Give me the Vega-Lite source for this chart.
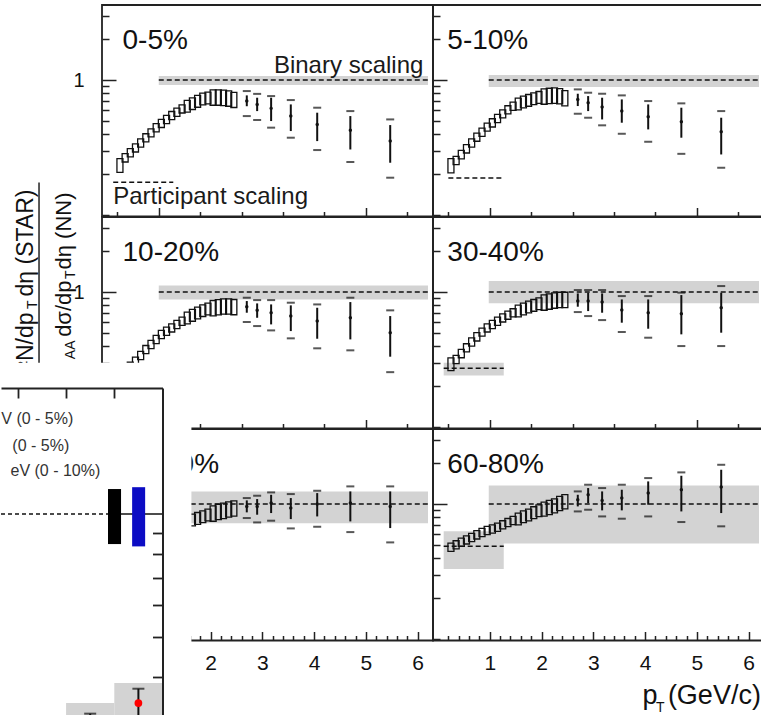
{
"$schema": "https://vega.github.io/schema/vega-lite/v6.json",
"background": "white",
"padding": {"left": 0, "top": 4, "right": 0, "bottom": 0},
"bounds": "flush",
"spacing": 383,
"config": {
  "font": "Liberation Sans",
  "view": {"stroke": "#222", "strokeWidth": 1.8},
  "axis": {"grid": false, "domain": false, "tickColor": "#222", "tickWidth": 1.5, "labelFont": "Liberation Sans", "labelColor": "#111", "labelOverlap": false, "zindex": 1}
},
"datasets": {
"bands": [
{"panel":"0-5%","kind":"binary","x1":1.0,"x2":6.2,"lo":0.92,"hi":1.07,"line":1},
{"panel":"0-5%","kind":"participant","x1":0.12,"x2":1.28,"lo":0.175,"hi":0.175,"line":0.175},
{"panel":"5-10%","kind":"binary","x1":0.98,"x2":6.2,"lo":0.89,"hi":1.09,"line":1},
{"panel":"5-10%","kind":"participant","x1":0.2,"x2":1.28,"lo":0.188,"hi":0.188,"line":0.188},
{"panel":"10-20%","kind":"binary","x1":1.0,"x2":6.2,"lo":0.88,"hi":1.12,"line":1},
{"panel":"30-40%","kind":"binary","x1":0.98,"x2":6.2,"lo":0.825,"hi":1.207,"line":1},
{"panel":"30-40%","kind":"participant","x1":0.11,"x2":1.27,"lo":0.241,"hi":0.300,"line":0.273},
{"panel":"40-60%","kind":"binary","x1":1.0,"x2":6.2,"lo":0.72,"hi":1.24,"line":1},
{"panel":"60-80%","kind":"binary","x1":0.98,"x2":6.2,"lo":0.51,"hi":1.37,"line":1},
{"panel":"60-80%","kind":"participant","x1":0.11,"x2":1.27,"lo":0.33,"hi":0.63,"line":0.486}
],
"low": [
{"panel":"0-5%","pt":0.25,"v":0.237,"lo":0.207,"hi":0.262},
{"panel":"0-5%","pt":0.35,"v":0.266,"lo":0.247,"hi":0.285},
{"panel":"0-5%","pt":0.45,"v":0.290,"lo":0.270,"hi":0.310},
{"panel":"0-5%","pt":0.55,"v":0.315,"lo":0.293,"hi":0.337},
{"panel":"0-5%","pt":0.65,"v":0.343,"lo":0.319,"hi":0.367},
{"panel":"0-5%","pt":0.75,"v":0.374,"lo":0.348,"hi":0.400},
{"panel":"0-5%","pt":0.85,"v":0.407,"lo":0.379,"hi":0.435},
{"panel":"0-5%","pt":0.95,"v":0.444,"lo":0.413,"hi":0.475},
{"panel":"0-5%","pt":1.05,"v":0.478,"lo":0.445,"hi":0.511},
{"panel":"0-5%","pt":1.15,"v":0.511,"lo":0.475,"hi":0.547},
{"panel":"0-5%","pt":1.25,"v":0.547,"lo":0.509,"hi":0.585},
{"panel":"0-5%","pt":1.35,"v":0.579,"lo":0.538,"hi":0.620},
{"panel":"0-5%","pt":1.45,"v":0.613,"lo":0.570,"hi":0.656},
{"panel":"0-5%","pt":1.55,"v":0.642,"lo":0.578,"hi":0.706},
{"panel":"0-5%","pt":1.65,"v":0.672,"lo":0.605,"hi":0.739},
{"panel":"0-5%","pt":1.75,"v":0.699,"lo":0.629,"hi":0.769},
{"panel":"0-5%","pt":1.85,"v":0.727,"lo":0.654,"hi":0.800},
{"panel":"0-5%","pt":1.95,"v":0.740,"lo":0.666,"hi":0.814},
{"panel":"0-5%","pt":2.05,"v":0.748,"lo":0.651,"hi":0.845},
{"panel":"0-5%","pt":2.15,"v":0.748,"lo":0.651,"hi":0.845},
{"panel":"0-5%","pt":2.25,"v":0.744,"lo":0.647,"hi":0.841},
{"panel":"0-5%","pt":2.35,"v":0.736,"lo":0.640,"hi":0.832},
{"panel":"0-5%","pt":2.45,"v":0.719,"lo":0.626,"hi":0.812},
{"panel":"5-10%","pt":0.25,"v":0.237,"lo":0.205,"hi":0.262},
{"panel":"5-10%","pt":0.35,"v":0.254,"lo":0.236,"hi":0.272},
{"panel":"5-10%","pt":0.45,"v":0.281,"lo":0.261,"hi":0.301},
{"panel":"5-10%","pt":0.55,"v":0.310,"lo":0.288,"hi":0.332},
{"panel":"5-10%","pt":0.65,"v":0.343,"lo":0.319,"hi":0.367},
{"panel":"5-10%","pt":0.75,"v":0.378,"lo":0.352,"hi":0.404},
{"panel":"5-10%","pt":0.85,"v":0.412,"lo":0.383,"hi":0.441},
{"panel":"5-10%","pt":0.95,"v":0.449,"lo":0.418,"hi":0.480},
{"panel":"5-10%","pt":1.05,"v":0.483,"lo":0.449,"hi":0.517},
{"panel":"5-10%","pt":1.15,"v":0.520,"lo":0.484,"hi":0.556},
{"panel":"5-10%","pt":1.25,"v":0.563,"lo":0.524,"hi":0.602},
{"panel":"5-10%","pt":1.35,"v":0.603,"lo":0.561,"hi":0.645},
{"panel":"5-10%","pt":1.45,"v":0.642,"lo":0.597,"hi":0.687},
{"panel":"5-10%","pt":1.55,"v":0.668,"lo":0.601,"hi":0.735},
{"panel":"5-10%","pt":1.65,"v":0.691,"lo":0.622,"hi":0.760},
{"panel":"5-10%","pt":1.75,"v":0.711,"lo":0.640,"hi":0.782},
{"panel":"5-10%","pt":1.85,"v":0.731,"lo":0.658,"hi":0.804},
{"panel":"5-10%","pt":1.95,"v":0.748,"lo":0.673,"hi":0.823},
{"panel":"5-10%","pt":2.05,"v":0.761,"lo":0.662,"hi":0.860},
{"panel":"5-10%","pt":2.15,"v":0.770,"lo":0.670,"hi":0.870},
{"panel":"5-10%","pt":2.25,"v":0.774,"lo":0.673,"hi":0.875},
{"panel":"5-10%","pt":2.35,"v":0.765,"lo":0.666,"hi":0.864},
{"panel":"5-10%","pt":2.45,"v":0.740,"lo":0.644,"hi":0.836},
{"panel":"10-20%","pt":0.45,"v":0.282,"lo":0.262,"hi":0.302},
{"panel":"10-20%","pt":0.55,"v":0.308,"lo":0.286,"hi":0.330},
{"panel":"10-20%","pt":0.65,"v":0.340,"lo":0.316,"hi":0.364},
{"panel":"10-20%","pt":0.75,"v":0.376,"lo":0.350,"hi":0.402},
{"panel":"10-20%","pt":0.85,"v":0.410,"lo":0.381,"hi":0.439},
{"panel":"10-20%","pt":0.95,"v":0.446,"lo":0.415,"hi":0.477},
{"panel":"10-20%","pt":1.05,"v":0.486,"lo":0.452,"hi":0.520},
{"panel":"10-20%","pt":1.15,"v":0.514,"lo":0.478,"hi":0.550},
{"panel":"10-20%","pt":1.25,"v":0.544,"lo":0.506,"hi":0.582},
{"panel":"10-20%","pt":1.35,"v":0.576,"lo":0.536,"hi":0.616},
{"panel":"10-20%","pt":1.45,"v":0.610,"lo":0.567,"hi":0.653},
{"panel":"10-20%","pt":1.55,"v":0.645,"lo":0.581,"hi":0.710},
{"panel":"10-20%","pt":1.65,"v":0.676,"lo":0.608,"hi":0.744},
{"panel":"10-20%","pt":1.75,"v":0.703,"lo":0.633,"hi":0.773},
{"panel":"10-20%","pt":1.85,"v":0.732,"lo":0.659,"hi":0.805},
{"panel":"10-20%","pt":1.95,"v":0.753,"lo":0.678,"hi":0.828},
{"panel":"10-20%","pt":2.05,"v":0.766,"lo":0.666,"hi":0.866},
{"panel":"10-20%","pt":2.15,"v":0.779,"lo":0.678,"hi":0.880},
{"panel":"10-20%","pt":2.25,"v":0.788,"lo":0.686,"hi":0.890},
{"panel":"10-20%","pt":2.35,"v":0.788,"lo":0.686,"hi":0.890},
{"panel":"10-20%","pt":2.45,"v":0.780,"lo":0.679,"hi":0.881},
{"panel":"30-40%","pt":0.25,"v":0.291,"lo":0.262,"hi":0.325},
{"panel":"30-40%","pt":0.35,"v":0.317,"lo":0.295,"hi":0.339},
{"panel":"30-40%","pt":0.45,"v":0.351,"lo":0.326,"hi":0.376},
{"panel":"30-40%","pt":0.55,"v":0.387,"lo":0.360,"hi":0.414},
{"panel":"30-40%","pt":0.65,"v":0.427,"lo":0.397,"hi":0.457},
{"panel":"30-40%","pt":0.75,"v":0.467,"lo":0.434,"hi":0.500},
{"panel":"30-40%","pt":0.85,"v":0.506,"lo":0.471,"hi":0.541},
{"panel":"30-40%","pt":0.95,"v":0.544,"lo":0.506,"hi":0.582},
{"panel":"30-40%","pt":1.05,"v":0.576,"lo":0.536,"hi":0.616},
{"panel":"30-40%","pt":1.15,"v":0.610,"lo":0.567,"hi":0.653},
{"panel":"30-40%","pt":1.25,"v":0.645,"lo":0.600,"hi":0.690},
{"panel":"30-40%","pt":1.35,"v":0.676,"lo":0.629,"hi":0.723},
{"panel":"30-40%","pt":1.45,"v":0.703,"lo":0.654,"hi":0.752},
{"panel":"30-40%","pt":1.55,"v":0.727,"lo":0.654,"hi":0.800},
{"panel":"30-40%","pt":1.65,"v":0.753,"lo":0.678,"hi":0.828},
{"panel":"30-40%","pt":1.75,"v":0.779,"lo":0.701,"hi":0.857},
{"panel":"30-40%","pt":1.85,"v":0.801,"lo":0.721,"hi":0.881},
{"panel":"30-40%","pt":1.95,"v":0.824,"lo":0.742,"hi":0.906},
{"panel":"30-40%","pt":2.05,"v":0.843,"lo":0.733,"hi":0.953},
{"panel":"30-40%","pt":2.15,"v":0.858,"lo":0.746,"hi":0.970},
{"panel":"30-40%","pt":2.25,"v":0.872,"lo":0.759,"hi":0.985},
{"panel":"30-40%","pt":2.35,"v":0.882,"lo":0.767,"hi":0.997},
{"panel":"30-40%","pt":2.45,"v":0.882,"lo":0.767,"hi":0.997},
{"panel":"40-60%","pt":1.65,"v":0.765,"lo":0.689,"hi":0.842},
{"panel":"40-60%","pt":1.75,"v":0.787,"lo":0.708,"hi":0.866},
{"panel":"40-60%","pt":1.85,"v":0.810,"lo":0.729,"hi":0.891},
{"panel":"40-60%","pt":1.95,"v":0.834,"lo":0.751,"hi":0.917},
{"panel":"40-60%","pt":2.05,"v":0.858,"lo":0.746,"hi":0.970},
{"panel":"40-60%","pt":2.15,"v":0.882,"lo":0.767,"hi":0.997},
{"panel":"40-60%","pt":2.25,"v":0.898,"lo":0.781,"hi":1.015},
{"panel":"40-60%","pt":2.35,"v":0.918,"lo":0.799,"hi":1.037},
{"panel":"40-60%","pt":2.45,"v":0.934,"lo":0.813,"hi":1.055},
{"panel":"60-80%","pt":0.25,"v":0.480,"lo":0.446,"hi":0.514},
{"panel":"60-80%","pt":0.35,"v":0.500,"lo":0.465,"hi":0.535},
{"panel":"60-80%","pt":0.45,"v":0.523,"lo":0.486,"hi":0.560},
{"panel":"60-80%","pt":0.55,"v":0.544,"lo":0.506,"hi":0.582},
{"panel":"60-80%","pt":0.65,"v":0.566,"lo":0.526,"hi":0.606},
{"panel":"60-80%","pt":0.75,"v":0.593,"lo":0.551,"hi":0.635},
{"panel":"60-80%","pt":0.85,"v":0.617,"lo":0.574,"hi":0.660},
{"panel":"60-80%","pt":0.95,"v":0.638,"lo":0.593,"hi":0.683},
{"panel":"60-80%","pt":1.05,"v":0.656,"lo":0.610,"hi":0.702},
{"panel":"60-80%","pt":1.15,"v":0.675,"lo":0.628,"hi":0.722},
{"panel":"60-80%","pt":1.25,"v":0.703,"lo":0.654,"hi":0.752},
{"panel":"60-80%","pt":1.35,"v":0.731,"lo":0.680,"hi":0.782},
{"panel":"60-80%","pt":1.45,"v":0.757,"lo":0.704,"hi":0.810},
{"panel":"60-80%","pt":1.55,"v":0.779,"lo":0.701,"hi":0.857},
{"panel":"60-80%","pt":1.65,"v":0.810,"lo":0.729,"hi":0.891},
{"panel":"60-80%","pt":1.75,"v":0.834,"lo":0.751,"hi":0.917},
{"panel":"60-80%","pt":1.85,"v":0.868,"lo":0.781,"hi":0.955},
{"panel":"60-80%","pt":1.95,"v":0.898,"lo":0.808,"hi":0.988},
{"panel":"60-80%","pt":2.05,"v":0.924,"lo":0.813,"hi":1.035},
{"panel":"60-80%","pt":2.15,"v":0.950,"lo":0.836,"hi":1.064},
{"panel":"60-80%","pt":2.25,"v":0.977,"lo":0.860,"hi":1.094},
{"panel":"60-80%","pt":2.35,"v":1.017,"lo":0.895,"hi":1.139},
{"panel":"60-80%","pt":2.45,"v":1.047,"lo":0.921,"hi":1.173}
],
"high": [
{"panel":"0-5%","pt":2.70,"v":0.699,"slo":0.640,"shi":0.770,"elo":0.541,"ehi":0.829},
{"panel":"0-5%","pt":2.90,"v":0.660,"slo":0.589,"shi":0.740,"elo":0.506,"ehi":0.790},
{"panel":"0-5%","pt":3.17,"v":0.617,"slo":0.497,"shi":0.740,"elo":0.444,"ehi":0.761},
{"panel":"0-5%","pt":3.55,"v":0.541,"slo":0.419,"shi":0.660,"elo":0.374,"ehi":0.711},
{"panel":"0-5%","pt":4.06,"v":0.469,"slo":0.353,"shi":0.573,"elo":0.303,"ehi":0.624},
{"panel":"0-5%","pt":4.70,"v":0.424,"slo":0.306,"shi":0.541,"elo":0.247,"ehi":0.589},
{"panel":"0-5%","pt":5.47,"v":0.353,"slo":0.244,"shi":0.464,"elo":0.189,"ehi":0.511},
{"panel":"5-10%","pt":2.70,"v":0.719,"slo":0.642,"shi":0.792,"elo":0.563,"ehi":0.853},
{"panel":"5-10%","pt":2.90,"v":0.679,"slo":0.589,"shi":0.761,"elo":0.526,"ehi":0.806},
{"panel":"5-10%","pt":3.17,"v":0.631,"slo":0.511,"shi":0.740,"elo":0.462,"ehi":0.792},
{"panel":"5-10%","pt":3.55,"v":0.589,"slo":0.483,"shi":0.719,"elo":0.400,"ehi":0.770},
{"panel":"5-10%","pt":4.06,"v":0.535,"slo":0.431,"shi":0.660,"elo":0.349,"ehi":0.699},
{"panel":"5-10%","pt":4.70,"v":0.491,"slo":0.374,"shi":0.624,"elo":0.284,"ehi":0.672},
{"panel":"5-10%","pt":5.47,"v":0.414,"slo":0.281,"shi":0.526,"elo":0.224,"ehi":0.589},
{"panel":"10-20%","pt":2.70,"v":0.779,"slo":0.703,"shi":0.858,"elo":0.600,"ehi":0.908},
{"panel":"10-20%","pt":2.90,"v":0.732,"slo":0.645,"shi":0.824,"elo":0.560,"ehi":0.872},
{"panel":"10-20%","pt":3.17,"v":0.703,"slo":0.576,"shi":0.810,"elo":0.520,"ehi":0.872},
{"panel":"10-20%","pt":3.55,"v":0.664,"slo":0.514,"shi":0.797,"elo":0.454,"ehi":0.834},
{"panel":"10-20%","pt":4.06,"v":0.610,"slo":0.451,"shi":0.765,"elo":0.383,"ehi":0.810},
{"panel":"10-20%","pt":4.70,"v":0.645,"slo":0.446,"shi":0.843,"elo":0.370,"ehi":0.908},
{"panel":"10-20%","pt":5.47,"v":0.500,"slo":0.332,"shi":0.664,"elo":0.255,"ehi":0.732},
{"panel":"30-40%","pt":2.70,"v":0.858,"slo":0.779,"shi":0.977,"elo":0.711,"ehi":1.035},
{"panel":"30-40%","pt":2.90,"v":0.858,"slo":0.723,"shi":0.989,"elo":0.664,"ehi":1.035},
{"panel":"30-40%","pt":3.17,"v":0.843,"slo":0.703,"shi":0.977,"elo":0.620,"ehi":1.035},
{"panel":"30-40%","pt":3.55,"v":0.736,"slo":0.593,"shi":0.882,"elo":0.506,"ehi":0.934},
{"panel":"30-40%","pt":4.06,"v":0.703,"slo":0.535,"shi":0.882,"elo":0.459,"ehi":0.934},
{"panel":"30-40%","pt":4.70,"v":0.691,"slo":0.486,"shi":0.950,"elo":0.398,"ehi":0.990},
{"panel":"30-40%","pt":5.47,"v":0.765,"slo":0.500,"shi":0.989,"elo":0.398,"ehi":1.108},
{"panel":"40-60%","pt":2.70,"v":0.961,"slo":0.868,"shi":1.065,"elo":0.788,"ehi":1.108},
{"panel":"40-60%","pt":2.90,"v":0.961,"slo":0.834,"shi":1.089,"elo":0.731,"ehi":1.153},
{"panel":"40-60%","pt":3.17,"v":1.017,"slo":0.858,"shi":1.172,"elo":0.753,"ehi":1.220},
{"panel":"40-60%","pt":3.55,"v":0.934,"slo":0.774,"shi":1.108,"elo":0.660,"ehi":1.186},
{"panel":"40-60%","pt":4.06,"v":1.000,"slo":0.810,"shi":1.206,"elo":0.679,"ehi":1.255},
{"panel":"40-60%","pt":4.70,"v":1.017,"slo":0.744,"shi":1.241,"elo":0.620,"ehi":1.352},
{"panel":"40-60%","pt":5.47,"v":0.961,"slo":0.664,"shi":1.241,"elo":0.520,"ehi":1.352},
{"panel":"60-80%","pt":2.70,"v":1.077,"slo":0.961,"shi":1.172,"elo":0.882,"ehi":1.241},
{"panel":"60-80%","pt":2.90,"v":1.172,"slo":1.017,"shi":1.314,"elo":0.908,"ehi":1.391},
{"panel":"60-80%","pt":3.17,"v":1.065,"slo":0.898,"shi":1.241,"elo":0.810,"ehi":1.314},
{"panel":"60-80%","pt":3.55,"v":1.108,"slo":0.898,"shi":1.277,"elo":0.779,"ehi":1.391},
{"panel":"60-80%","pt":4.06,"v":1.206,"slo":0.989,"shi":1.472,"elo":0.810,"ehi":1.558},
{"panel":"60-80%","pt":4.70,"v":1.277,"slo":0.882,"shi":1.621,"elo":0.736,"ehi":1.717},
{"panel":"60-80%","pt":5.47,"v":1.336,"slo":0.858,"shi":1.796,"elo":0.684,"ehi":1.955}
],
"inset_boxes": [
{"kind":"syst","x1":3.0,"x2":5.0,"lo":0.25,"hi":0.346},
{"kind":"syst","x1":5.0,"x2":7.0,"lo":0.25,"hi":0.3875},
{"kind":"normA","x1":4.74,"x2":5.28,"lo":0.845,"hi":1.151},
{"kind":"normB","x1":5.74,"x2":6.28,"lo":0.834,"hi":1.163}
],
"inset_points": [
{"series":"A","x":4.0,"v":0.29,"lo":0.27,"hi":0.326},
{"series":"B","x":6.0,"v":0.346,"lo":0.30,"hi":0.375}
]
},
"vconcat": [
{
"concat": [
{"width": 101, "height": 211.5, "view": {"stroke": null}, "data": {"values": [{}]}, "mark": {"type": "text", "text": ""}},
{"width": 331, "height": 211.5, "layer": [
 {"data": {"name": "bands"}, "transform": [{"filter": "datum.panel === '0-5%'"}], "mark": {"type": "rect", "color": "#d3d3d3"},
  "encoding": {
   "x": {"field": "x1", "type": "quantitative", "scale": {"domain": [0, 6.2], "nice": false, "zero": false}, "axis": {"title": null, "values": [0.2,0.4,0.6,0.8,1,1.2,1.4,1.6,1.8,2,2.2,2.4,2.6,2.8,3,3.2,3.4,3.6,3.8,4,4.2,4.4,4.6,4.8,5,5.2,5.4,5.6,5.8,6], "labels": false, "tickSize": {"condition": {"test": "abs(datum.value - round(datum.value)) < 0.01", "value": -9}, "value": -5}}},
   "x2": {"field": "x2"},
   "y": {"field": "lo", "type": "quantitative", "scale": {"type": "log", "domain": [0.0975, 3.6], "nice": false}, "axis": {"title": null, "values": [0.1,0.2,0.3,0.4,0.5,0.6,0.7,0.8,0.9,1,2,3], "labelExpr": "datum.value === 1 ? '1' : ''", "labelFontSize": 20, "labelPadding": 32, "labelOverlap": false, "tickSize": {"condition": {"test": "datum.value === 1", "value": -14}, "value": -7}}},
   "y2": {"field": "hi"}}},
 {"data": {"name": "bands"}, "transform": [{"filter": "datum.panel === '0-5%'"}], "mark": {"type": "rule", "color": "#111", "strokeWidth": 1.5, "strokeDash": [5, 3]},
  "encoding": {"x": {"field": "x1", "type": "quantitative"}, "x2": {"field": "x2"}, "y": {"field": "line", "type": "quantitative"}}},
 {"data": {"name": "low"}, "transform": [{"filter": "datum.panel === '0-5%'"}], "mark": {"type": "bar", "size": 6, "fillOpacity": 0, "stroke": "#111", "strokeWidth": 1.3},
  "encoding": {"x": {"field": "pt", "type": "quantitative"}, "y": {"field": "lo", "type": "quantitative"}, "y2": {"field": "hi"}}},
 {"data": {"name": "high"}, "transform": [{"filter": "datum.panel === '0-5%'"}], "mark": {"type": "rule", "color": "#111", "strokeWidth": 2},
  "encoding": {"x": {"field": "pt", "type": "quantitative"}, "y": {"field": "slo", "type": "quantitative"}, "y2": {"field": "shi"}}},
 {"data": {"name": "high"}, "transform": [{"filter": "datum.panel === '0-5%'"}], "mark": {"type": "tick", "orient": "horizontal", "size": 8, "thickness": 2, "color": "#111"},
  "encoding": {"x": {"field": "pt", "type": "quantitative"}, "y": {"field": "elo", "type": "quantitative"}}},
 {"data": {"name": "high"}, "transform": [{"filter": "datum.panel === '0-5%'"}], "mark": {"type": "tick", "orient": "horizontal", "size": 8, "thickness": 2, "color": "#111"},
  "encoding": {"x": {"field": "pt", "type": "quantitative"}, "y": {"field": "ehi", "type": "quantitative"}}},
 {"data": {"name": "high"}, "transform": [{"filter": "datum.panel === '0-5%'"}], "mark": {"type": "circle", "size": 12, "color": "#111", "opacity": 1},
  "encoding": {"x": {"field": "pt", "type": "quantitative"}, "y": {"field": "v", "type": "quantitative"}}},
 {"data": {"values": [{}]}, "mark": {"type": "text", "text": "0-5%", "align": "left", "baseline": "alphabetic", "fontSize": 28, "color": "#111"},
  "encoding": {"x": {"datum": 0.3, "type": "quantitative"}, "y": {"datum": 1.7, "type": "quantitative"}}},
 {"data": {"values": [{}]}, "mark": {"type": "text", "text": "Binary scaling", "align": "right", "baseline": "alphabetic", "fontSize": 24, "color": "#1a1a1a"},
  "encoding": {"x": {"datum": 6.11, "type": "quantitative"}, "y": {"datum": 1.133, "type": "quantitative"}}},
 {"data": {"values": [{}]}, "mark": {"type": "text", "text": "Participant scaling", "align": "left", "baseline": "alphabetic", "fontSize": 24, "color": "#1a1a1a"},
  "encoding": {"x": {"datum": 0.12, "type": "quantitative"}, "y": {"datum": 0.1206, "type": "quantitative"}}}
]},
{"width": 331, "height": 211.5, "layer": [
 {"data": {"name": "bands"}, "transform": [{"filter": "datum.panel === '5-10%'"}], "mark": {"type": "rect", "color": "#d3d3d3"},
  "encoding": {
   "x": {"field": "x1", "type": "quantitative", "scale": {"domain": [0, 6.2], "nice": false, "zero": false}, "axis": {"title": null, "values": [0.2,0.4,0.6,0.8,1,1.2,1.4,1.6,1.8,2,2.2,2.4,2.6,2.8,3,3.2,3.4,3.6,3.8,4,4.2,4.4,4.6,4.8,5,5.2,5.4,5.6,5.8,6], "labels": false, "tickSize": {"condition": {"test": "abs(datum.value - round(datum.value)) < 0.01", "value": -9}, "value": -5}}},
   "x2": {"field": "x2"},
   "y": {"field": "lo", "type": "quantitative", "scale": {"type": "log", "domain": [0.0975, 3.6], "nice": false}, "axis": {"title": null, "values": [0.1,0.2,0.3,0.4,0.5,0.6,0.7,0.8,0.9,1,2,3], "labels": false, "tickSize": {"condition": {"test": "datum.value === 1", "value": -14}, "value": -7}}},
   "y2": {"field": "hi"}}},
 {"data": {"name": "bands"}, "transform": [{"filter": "datum.panel === '5-10%'"}], "mark": {"type": "rule", "color": "#111", "strokeWidth": 1.5, "strokeDash": [5, 3]},
  "encoding": {"x": {"field": "x1", "type": "quantitative"}, "x2": {"field": "x2"}, "y": {"field": "line", "type": "quantitative"}}},
 {"data": {"name": "low"}, "transform": [{"filter": "datum.panel === '5-10%'"}], "mark": {"type": "bar", "size": 6, "fillOpacity": 0, "stroke": "#111", "strokeWidth": 1.3},
  "encoding": {"x": {"field": "pt", "type": "quantitative"}, "y": {"field": "lo", "type": "quantitative"}, "y2": {"field": "hi"}}},
 {"data": {"name": "high"}, "transform": [{"filter": "datum.panel === '5-10%'"}], "mark": {"type": "rule", "color": "#111", "strokeWidth": 2},
  "encoding": {"x": {"field": "pt", "type": "quantitative"}, "y": {"field": "slo", "type": "quantitative"}, "y2": {"field": "shi"}}},
 {"data": {"name": "high"}, "transform": [{"filter": "datum.panel === '5-10%'"}], "mark": {"type": "tick", "orient": "horizontal", "size": 8, "thickness": 2, "color": "#111"},
  "encoding": {"x": {"field": "pt", "type": "quantitative"}, "y": {"field": "elo", "type": "quantitative"}}},
 {"data": {"name": "high"}, "transform": [{"filter": "datum.panel === '5-10%'"}], "mark": {"type": "tick", "orient": "horizontal", "size": 8, "thickness": 2, "color": "#111"},
  "encoding": {"x": {"field": "pt", "type": "quantitative"}, "y": {"field": "ehi", "type": "quantitative"}}},
 {"data": {"name": "high"}, "transform": [{"filter": "datum.panel === '5-10%'"}], "mark": {"type": "circle", "size": 12, "color": "#111", "opacity": 1},
  "encoding": {"x": {"field": "pt", "type": "quantitative"}, "y": {"field": "v", "type": "quantitative"}}},
 {"data": {"values": [{}]}, "mark": {"type": "text", "text": "5-10%", "align": "left", "baseline": "alphabetic", "fontSize": 28, "color": "#111"},
  "encoding": {"x": {"datum": 0.18, "type": "quantitative"}, "y": {"datum": 1.7, "type": "quantitative"}}}
]},
{"width": 101, "height": 211.5, "view": {"stroke": null}, "layer": [
 {"data": {"values": [{}]}, "mark": {"type": "rule", "color": "#222", "strokeWidth": 1.5, "clip": false},
  "encoding": {"x": {"datum": -1.189, "type": "quantitative", "scale": {"domain": [-1.907, 0], "nice": false, "zero": false}, "axis": null}, "y": {"datum": 6.48, "type": "quantitative", "scale": {"type": "log", "domain": [0.0975, 3.6], "nice": false}, "axis": null}, "y2": {"datum": 0.221}}},
 {"data": {"values": [{}]}, "mark": {"type": "text", "text": "dη (STAR)", "angle": 270, "align": "right", "baseline": "alphabetic", "fontSize": 23, "color": "#111", "clip": false},
  "encoding": {"x": {"datum": -1.303, "type": "quantitative"}, "y": {"datum": 5.75, "type": "quantitative"}}},
 {"data": {"values": [{}]}, "mark": {"type": "text", "text": "T", "angle": 270, "align": "right", "baseline": "alphabetic", "fontSize": 14, "color": "#111", "clip": false},
  "encoding": {"x": {"datum": -1.227, "type": "quantitative"}, "y": {"datum": 0.866, "type": "quantitative"}}},
 {"data": {"values": [{}]}, "mark": {"type": "text", "text": "d²N/dp", "angle": 270, "align": "right", "baseline": "alphabetic", "fontSize": 23, "color": "#111", "clip": false},
  "encoding": {"x": {"datum": -1.303, "type": "quantitative"}, "y": {"datum": 0.706, "type": "quantitative"}}},
 {"data": {"values": [{}]}, "mark": {"type": "text", "text": "dη (NN)", "angle": 270, "align": "right", "baseline": "alphabetic", "fontSize": 22, "color": "#111", "clip": false},
  "encoding": {"x": {"datum": -0.585, "type": "quantitative"}, "y": {"datum": 5.47, "type": "quantitative"}}},
 {"data": {"values": [{}]}, "mark": {"type": "text", "text": "T", "angle": 270, "align": "right", "baseline": "alphabetic", "fontSize": 14, "color": "#111", "clip": false},
  "encoding": {"x": {"datum": -0.51, "type": "quantitative"}, "y": {"datum": 1.445, "type": "quantitative"}}},
 {"data": {"values": [{}]}, "mark": {"type": "text", "text": "dσ/dp", "angle": 270, "align": "right", "baseline": "alphabetic", "fontSize": 22, "color": "#111", "clip": false},
  "encoding": {"x": {"datum": -0.585, "type": "quantitative"}, "y": {"datum": 1.219, "type": "quantitative"}}},
 {"data": {"values": [{}]}, "mark": {"type": "text", "text": "AA", "angle": 270, "align": "right", "baseline": "alphabetic", "fontSize": 14, "color": "#111", "clip": false},
  "encoding": {"x": {"datum": -0.51, "type": "quantitative"}, "y": {"datum": 0.438, "type": "quantitative"}}}
]},
{"width": 331, "height": 211.5, "layer": [
 {"data": {"name": "bands"}, "transform": [{"filter": "datum.panel === '10-20%'"}], "mark": {"type": "rect", "color": "#d3d3d3"},
  "encoding": {
   "x": {"field": "x1", "type": "quantitative", "scale": {"domain": [0, 6.2], "nice": false, "zero": false}, "axis": {"title": null, "values": [0.2,0.4,0.6,0.8,1,1.2,1.4,1.6,1.8,2,2.2,2.4,2.6,2.8,3,3.2,3.4,3.6,3.8,4,4.2,4.4,4.6,4.8,5,5.2,5.4,5.6,5.8,6], "labels": false, "tickSize": {"condition": {"test": "abs(datum.value - round(datum.value)) < 0.01", "value": -9}, "value": -5}}},
   "x2": {"field": "x2"},
   "y": {"field": "lo", "type": "quantitative", "scale": {"type": "log", "domain": [0.0975, 3.6], "nice": false}, "axis": {"title": null, "values": [0.1,0.2,0.3,0.4,0.5,0.6,0.7,0.8,0.9,1,2,3], "labelExpr": "datum.value === 1 ? '1' : ''", "labelFontSize": 20, "labelPadding": 32, "labelOverlap": false, "tickSize": {"condition": {"test": "datum.value === 1", "value": -14}, "value": -7}}},
   "y2": {"field": "hi"}}},
 {"data": {"name": "bands"}, "transform": [{"filter": "datum.panel === '10-20%'"}], "mark": {"type": "rule", "color": "#111", "strokeWidth": 1.5, "strokeDash": [5, 3]},
  "encoding": {"x": {"field": "x1", "type": "quantitative"}, "x2": {"field": "x2"}, "y": {"field": "line", "type": "quantitative"}}},
 {"data": {"name": "low"}, "transform": [{"filter": "datum.panel === '10-20%'"}], "mark": {"type": "bar", "size": 6, "fillOpacity": 0, "stroke": "#111", "strokeWidth": 1.3},
  "encoding": {"x": {"field": "pt", "type": "quantitative"}, "y": {"field": "lo", "type": "quantitative"}, "y2": {"field": "hi"}}},
 {"data": {"name": "high"}, "transform": [{"filter": "datum.panel === '10-20%'"}], "mark": {"type": "rule", "color": "#111", "strokeWidth": 2},
  "encoding": {"x": {"field": "pt", "type": "quantitative"}, "y": {"field": "slo", "type": "quantitative"}, "y2": {"field": "shi"}}},
 {"data": {"name": "high"}, "transform": [{"filter": "datum.panel === '10-20%'"}], "mark": {"type": "tick", "orient": "horizontal", "size": 8, "thickness": 2, "color": "#111"},
  "encoding": {"x": {"field": "pt", "type": "quantitative"}, "y": {"field": "elo", "type": "quantitative"}}},
 {"data": {"name": "high"}, "transform": [{"filter": "datum.panel === '10-20%'"}], "mark": {"type": "tick", "orient": "horizontal", "size": 8, "thickness": 2, "color": "#111"},
  "encoding": {"x": {"field": "pt", "type": "quantitative"}, "y": {"field": "ehi", "type": "quantitative"}}},
 {"data": {"name": "high"}, "transform": [{"filter": "datum.panel === '10-20%'"}], "mark": {"type": "circle", "size": 12, "color": "#111", "opacity": 1},
  "encoding": {"x": {"field": "pt", "type": "quantitative"}, "y": {"field": "v", "type": "quantitative"}}},
 {"data": {"values": [{}]}, "mark": {"type": "text", "text": "10-20%", "align": "left", "baseline": "alphabetic", "fontSize": 28, "color": "#111"},
  "encoding": {"x": {"datum": 0.3, "type": "quantitative"}, "y": {"datum": 1.7, "type": "quantitative"}}}
]},
{"width": 331, "height": 211.5, "layer": [
 {"data": {"name": "bands"}, "transform": [{"filter": "datum.panel === '30-40%'"}], "mark": {"type": "rect", "color": "#d3d3d3"},
  "encoding": {
   "x": {"field": "x1", "type": "quantitative", "scale": {"domain": [0, 6.2], "nice": false, "zero": false}, "axis": {"title": null, "values": [0.2,0.4,0.6,0.8,1,1.2,1.4,1.6,1.8,2,2.2,2.4,2.6,2.8,3,3.2,3.4,3.6,3.8,4,4.2,4.4,4.6,4.8,5,5.2,5.4,5.6,5.8,6], "labels": false, "tickSize": {"condition": {"test": "abs(datum.value - round(datum.value)) < 0.01", "value": -9}, "value": -5}}},
   "x2": {"field": "x2"},
   "y": {"field": "lo", "type": "quantitative", "scale": {"type": "log", "domain": [0.0975, 3.6], "nice": false}, "axis": {"title": null, "values": [0.1,0.2,0.3,0.4,0.5,0.6,0.7,0.8,0.9,1,2,3], "labels": false, "tickSize": {"condition": {"test": "datum.value === 1", "value": -14}, "value": -7}}},
   "y2": {"field": "hi"}}},
 {"data": {"name": "bands"}, "transform": [{"filter": "datum.panel === '30-40%'"}], "mark": {"type": "rule", "color": "#111", "strokeWidth": 1.5, "strokeDash": [5, 3]},
  "encoding": {"x": {"field": "x1", "type": "quantitative"}, "x2": {"field": "x2"}, "y": {"field": "line", "type": "quantitative"}}},
 {"data": {"name": "low"}, "transform": [{"filter": "datum.panel === '30-40%'"}], "mark": {"type": "bar", "size": 6, "fillOpacity": 0, "stroke": "#111", "strokeWidth": 1.3},
  "encoding": {"x": {"field": "pt", "type": "quantitative"}, "y": {"field": "lo", "type": "quantitative"}, "y2": {"field": "hi"}}},
 {"data": {"name": "high"}, "transform": [{"filter": "datum.panel === '30-40%'"}], "mark": {"type": "rule", "color": "#111", "strokeWidth": 2},
  "encoding": {"x": {"field": "pt", "type": "quantitative"}, "y": {"field": "slo", "type": "quantitative"}, "y2": {"field": "shi"}}},
 {"data": {"name": "high"}, "transform": [{"filter": "datum.panel === '30-40%'"}], "mark": {"type": "tick", "orient": "horizontal", "size": 8, "thickness": 2, "color": "#111"},
  "encoding": {"x": {"field": "pt", "type": "quantitative"}, "y": {"field": "elo", "type": "quantitative"}}},
 {"data": {"name": "high"}, "transform": [{"filter": "datum.panel === '30-40%'"}], "mark": {"type": "tick", "orient": "horizontal", "size": 8, "thickness": 2, "color": "#111"},
  "encoding": {"x": {"field": "pt", "type": "quantitative"}, "y": {"field": "ehi", "type": "quantitative"}}},
 {"data": {"name": "high"}, "transform": [{"filter": "datum.panel === '30-40%'"}], "mark": {"type": "circle", "size": 12, "color": "#111", "opacity": 1},
  "encoding": {"x": {"field": "pt", "type": "quantitative"}, "y": {"field": "v", "type": "quantitative"}}},
 {"data": {"values": [{}]}, "mark": {"type": "text", "text": "30-40%", "align": "left", "baseline": "alphabetic", "fontSize": 28, "color": "#111"},
  "encoding": {"x": {"datum": 0.18, "type": "quantitative"}, "y": {"datum": 1.7, "type": "quantitative"}}}
]},
{"width": 101, "height": 211.5, "view": {"stroke": null}, "data": {"values": [{}]}, "mark": {"type": "text", "text": ""}},
{"width": 331, "height": 211.5, "resolve": {"axis": {"x": "independent"}}, "layer": [
 {"data": {"name": "bands"}, "transform": [{"filter": "datum.panel === '40-60%'"}], "mark": {"type": "rect", "color": "#d3d3d3"},
  "encoding": {
   "x": {"field": "x1", "type": "quantitative", "scale": {"domain": [0, 6.2], "nice": false, "zero": false}, "axis": {"orient": "bottom", "title": null, "values": [1,2,3,4,5,6], "format": "d", "labelFontSize": 21, "labelPadding": 21, "labelOverlap": false, "labelFlush": false, "tickSize": -9}},
   "x2": {"field": "x2"},
   "y": {"field": "lo", "type": "quantitative", "scale": {"type": "log", "domain": [0.0975, 3.6], "nice": false}, "axis": {"title": null, "values": [0.1,0.2,0.3,0.4,0.5,0.6,0.7,0.8,0.9,1,2,3], "labelExpr": "datum.value === 1 ? '1' : ''", "labelFontSize": 20, "labelPadding": 32, "labelOverlap": false, "tickSize": {"condition": {"test": "datum.value === 1", "value": -14}, "value": -7}}},
   "y2": {"field": "hi"}}},
 {"data": {"name": "bands"}, "transform": [{"filter": "datum.panel === '40-60%'"}], "mark": {"type": "rule", "color": "#111", "strokeWidth": 1.5, "strokeDash": [5, 3]},
  "encoding": {"x": {"field": "x1", "type": "quantitative", "axis": {"orient": "bottom", "title": null, "values": [0.2,0.4,0.6,0.8,1.2,1.4,1.6,1.8,2.2,2.4,2.6,2.8,3.2,3.4,3.6,3.8,4.2,4.4,4.6,4.8,5.2,5.4,5.6,5.8], "labels": false, "tickSize": -5}}, "x2": {"field": "x2"}, "y": {"field": "line", "type": "quantitative"}}},
 {"data": {"name": "low"}, "transform": [{"filter": "datum.panel === '40-60%'"}], "mark": {"type": "bar", "size": 6, "fillOpacity": 0, "stroke": "#111", "strokeWidth": 1.3},
  "encoding": {"x": {"field": "pt", "type": "quantitative", "axis": null}, "y": {"field": "lo", "type": "quantitative"}, "y2": {"field": "hi"}}},
 {"data": {"name": "high"}, "transform": [{"filter": "datum.panel === '40-60%'"}], "mark": {"type": "rule", "color": "#111", "strokeWidth": 2},
  "encoding": {"x": {"field": "pt", "type": "quantitative", "axis": null}, "y": {"field": "slo", "type": "quantitative"}, "y2": {"field": "shi"}}},
 {"data": {"name": "high"}, "transform": [{"filter": "datum.panel === '40-60%'"}], "mark": {"type": "tick", "orient": "horizontal", "size": 8, "thickness": 2, "color": "#111"},
  "encoding": {"x": {"field": "pt", "type": "quantitative", "axis": null}, "y": {"field": "elo", "type": "quantitative"}}},
 {"data": {"name": "high"}, "transform": [{"filter": "datum.panel === '40-60%'"}], "mark": {"type": "tick", "orient": "horizontal", "size": 8, "thickness": 2, "color": "#111"},
  "encoding": {"x": {"field": "pt", "type": "quantitative", "axis": null}, "y": {"field": "ehi", "type": "quantitative"}}},
 {"data": {"name": "high"}, "transform": [{"filter": "datum.panel === '40-60%'"}], "mark": {"type": "circle", "size": 12, "color": "#111", "opacity": 1},
  "encoding": {"x": {"field": "pt", "type": "quantitative", "axis": null}, "y": {"field": "v", "type": "quantitative"}}},
 {"data": {"values": [{}]}, "mark": {"type": "text", "text": "40-60%", "align": "left", "baseline": "alphabetic", "fontSize": 28, "color": "#111"},
  "encoding": {"x": {"datum": 0.3, "type": "quantitative", "axis": null}, "y": {"datum": 1.7, "type": "quantitative"}}}
]},
{"width": 331, "height": 211.5, "resolve": {"axis": {"x": "independent"}}, "layer": [
 {"data": {"name": "bands"}, "transform": [{"filter": "datum.panel === '60-80%'"}], "mark": {"type": "rect", "color": "#d3d3d3"},
  "encoding": {
   "x": {"field": "x1", "type": "quantitative", "scale": {"domain": [0, 6.2], "nice": false, "zero": false}, "axis": {"orient": "bottom", "title": null, "values": [1,2,3,4,5,6], "format": "d", "labelFontSize": 21, "labelPadding": 21, "labelOverlap": false, "labelFlush": false, "tickSize": -9}},
   "x2": {"field": "x2"},
   "y": {"field": "lo", "type": "quantitative", "scale": {"type": "log", "domain": [0.0975, 3.6], "nice": false}, "axis": {"title": null, "values": [0.1,0.2,0.3,0.4,0.5,0.6,0.7,0.8,0.9,1,2,3], "labels": false, "tickSize": {"condition": {"test": "datum.value === 1", "value": -14}, "value": -7}}},
   "y2": {"field": "hi"}}},
 {"data": {"name": "bands"}, "transform": [{"filter": "datum.panel === '60-80%'"}], "mark": {"type": "rule", "color": "#111", "strokeWidth": 1.5, "strokeDash": [5, 3]},
  "encoding": {"x": {"field": "x1", "type": "quantitative", "axis": {"orient": "bottom", "title": null, "values": [0.2,0.4,0.6,0.8,1.2,1.4,1.6,1.8,2.2,2.4,2.6,2.8,3.2,3.4,3.6,3.8,4.2,4.4,4.6,4.8,5.2,5.4,5.6,5.8], "labels": false, "tickSize": -5}}, "x2": {"field": "x2"}, "y": {"field": "line", "type": "quantitative"}}},
 {"data": {"name": "low"}, "transform": [{"filter": "datum.panel === '60-80%'"}], "mark": {"type": "bar", "size": 6, "fillOpacity": 0, "stroke": "#111", "strokeWidth": 1.3},
  "encoding": {"x": {"field": "pt", "type": "quantitative", "axis": null}, "y": {"field": "lo", "type": "quantitative"}, "y2": {"field": "hi"}}},
 {"data": {"name": "high"}, "transform": [{"filter": "datum.panel === '60-80%'"}], "mark": {"type": "rule", "color": "#111", "strokeWidth": 2},
  "encoding": {"x": {"field": "pt", "type": "quantitative", "axis": null}, "y": {"field": "slo", "type": "quantitative"}, "y2": {"field": "shi"}}},
 {"data": {"name": "high"}, "transform": [{"filter": "datum.panel === '60-80%'"}], "mark": {"type": "tick", "orient": "horizontal", "size": 8, "thickness": 2, "color": "#111"},
  "encoding": {"x": {"field": "pt", "type": "quantitative", "axis": null}, "y": {"field": "elo", "type": "quantitative"}}},
 {"data": {"name": "high"}, "transform": [{"filter": "datum.panel === '60-80%'"}], "mark": {"type": "tick", "orient": "horizontal", "size": 8, "thickness": 2, "color": "#111"},
  "encoding": {"x": {"field": "pt", "type": "quantitative", "axis": null}, "y": {"field": "ehi", "type": "quantitative"}}},
 {"data": {"name": "high"}, "transform": [{"filter": "datum.panel === '60-80%'"}], "mark": {"type": "circle", "size": 12, "color": "#111", "opacity": 1},
  "encoding": {"x": {"field": "pt", "type": "quantitative", "axis": null}, "y": {"field": "v", "type": "quantitative"}}},
 {"data": {"values": [{}]}, "mark": {"type": "text", "text": "60-80%", "align": "left", "baseline": "alphabetic", "fontSize": 28, "color": "#111"},
  "encoding": {"x": {"datum": 0.18, "type": "quantitative", "axis": null}, "y": {"datum": 1.7, "type": "quantitative"}}},
 {"data": {"values": [{}]}, "mark": {"type": "text", "text": "p", "align": "left", "baseline": "alphabetic", "fontSize": 27, "color": "#111", "clip": false},
  "encoding": {"x": {"datum": 3.95, "type": "quantitative", "axis": null}, "y": {"datum": 0.0331, "type": "quantitative"}}},
 {"data": {"values": [{}]}, "mark": {"type": "text", "text": "T", "align": "left", "baseline": "alphabetic", "fontSize": 14, "color": "#111", "clip": false},
  "encoding": {"x": {"datum": 4.21, "type": "quantitative", "axis": null}, "y": {"datum": 0.0288, "type": "quantitative"}}},
 {"data": {"values": [{}]}, "mark": {"type": "text", "text": "(GeV/c)", "align": "left", "baseline": "alphabetic", "fontSize": 27, "color": "#111", "clip": false},
  "encoding": {"x": {"datum": 4.44, "type": "quantitative", "axis": null}, "y": {"datum": 0.0331, "type": "quantitative"}}}
]}
],
"columns": 3, "spacing": 0, "bounds": "flush", "align": "each"
},
{"width": 161.5, "height": 336, "view": {"stroke": null}, "layer": [
 {"data": {"values": [{}]}, "mark": {"type": "rect", "color": "white", "clip": false},
  "encoding": {
   "x": {"datum": 0.3, "type": "quantitative", "scale": {"domain": [0.3, 7], "nice": false, "zero": false}, "axis": {"orient": "top", "title": null, "values": [1,2,3,4,5,6], "labels": false, "domain": true, "domainColor": "#222", "domainWidth": 2, "tickColor": "#222", "tickWidth": 1.8, "zindex": 2, "tickSize": {"condition": {"test": "datum.value === 2", "value": -15}, "value": -10}}},
   "x2": {"datum": 8.2},
   "y": {"datum": 0.28, "type": "quantitative", "scale": {"type": "log", "domain": [0.3076, 2.03], "nice": false}, "axis": {"orient": "right", "title": null, "values": [0.4,0.5,0.6,0.7,0.8,0.9], "labels": false, "domain": true, "domainColor": "#222", "domainWidth": 2, "tickColor": "#222", "tickWidth": 1.8, "zindex": 2, "tickSize": -10}},
   "y2": {"datum": 2.34}}},
 {"data": {"values": [{}]}, "mark": {"type": "rule", "color": "#111", "strokeWidth": 1.5, "strokeDash": [4, 3]},
  "encoding": {"x": {"datum": 0.3, "type": "quantitative"}, "x2": {"datum": 4.74}, "y": {"datum": 1, "type": "quantitative"}}},
 {"data": {"values": [{}]}, "mark": {"type": "rule", "color": "#111", "strokeWidth": 1.5},
  "encoding": {"x": {"datum": 4.74, "type": "quantitative"}, "x2": {"datum": 7}, "y": {"datum": 1, "type": "quantitative"}}},
 {"data": {"name": "inset_boxes"}, "mark": {"type": "rect", "clip": false},
  "encoding": {"x": {"field": "x1", "type": "quantitative"}, "x2": {"field": "x2"}, "y": {"field": "lo", "type": "quantitative"}, "y2": {"field": "hi"},
   "color": {"field": "kind", "type": "nominal", "scale": {"domain": ["syst", "normA", "normB"], "range": ["#d3d3d3", "#000000", "#0c0cc4"]}, "legend": null}}},
 {"data": {"name": "inset_points"}, "mark": {"type": "rule", "color": "#111", "strokeWidth": 2},
  "encoding": {"x": {"field": "x", "type": "quantitative"}, "y": {"field": "lo", "type": "quantitative"}, "y2": {"field": "hi"}}},
 {"data": {"name": "inset_points"}, "mark": {"type": "tick", "orient": "horizontal", "size": 12, "thickness": 2, "color": "#111"},
  "encoding": {"x": {"field": "x", "type": "quantitative"}, "y": {"field": "hi", "type": "quantitative"}}},
 {"data": {"name": "inset_points"}, "transform": [{"filter": "datum.series === 'B'"}], "mark": {"type": "circle", "size": 60, "color": "#ff0000", "opacity": 1},
  "encoding": {"x": {"field": "x", "type": "quantitative"}, "y": {"field": "v", "type": "quantitative"}}},
 {"data": {"values": [{}]}, "mark": {"type": "text", "text": "V (0 - 5%)", "align": "right", "baseline": "alphabetic", "fontSize": 16, "color": "#333"},
  "encoding": {"x": {"datum": 3.30, "type": "quantitative"}, "y": {"datum": 1.658, "type": "quantitative"}}},
 {"data": {"values": [{}]}, "mark": {"type": "text", "text": "(0 - 5%)", "align": "right", "baseline": "alphabetic", "fontSize": 16, "color": "#333"},
  "encoding": {"x": {"datum": 3.13, "type": "quantitative"}, "y": {"datum": 1.425, "type": "quantitative"}}},
 {"data": {"values": [{}]}, "mark": {"type": "text", "text": "eV (0 - 10%)", "align": "right", "baseline": "alphabetic", "fontSize": 16, "color": "#333"},
  "encoding": {"x": {"datum": 4.42, "type": "quantitative"}, "y": {"datum": 1.239, "type": "quantitative"}}}
]}
]
}
